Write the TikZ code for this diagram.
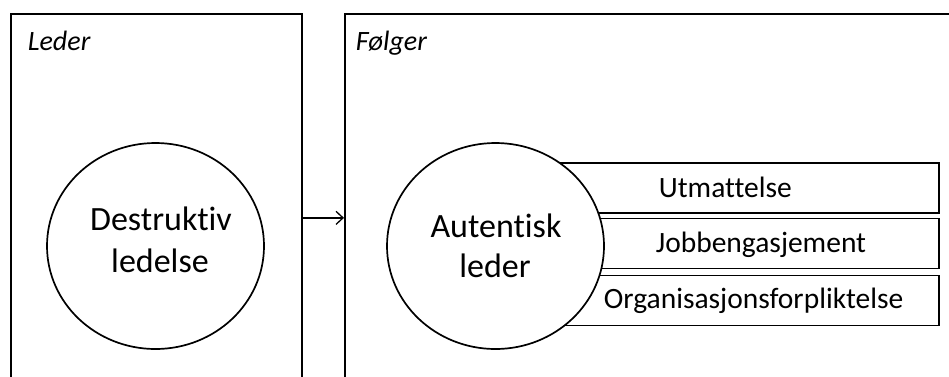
\documentclass[tikz,border=0pt]{standalone}
\usepackage{fontspec}
\setmainfont{Carlito}[Ligatures=NoCommon]
\usetikzlibrary{shapes.geometric,arrows.meta}
\begin{document}
\begin{tikzpicture}[x=1pt,y=-1pt, line width=1.7pt,
  panel/.style={draw, minimum width=#1, minimum height=408pt, anchor=north west, inner sep=0pt},
  blob/.style={draw, fill=white, ellipse, minimum width=217pt, minimum height=206pt, inner sep=0pt},
  bar/.style={draw, fill=white, minimum width=418pt, minimum height=50pt, anchor=north west, inner sep=0pt},
  bigtxt/.style={font=\fontsize{34}{41}\selectfont, anchor=base, inner sep=0pt},
  bartxt/.style={font=\fontsize{29.5}{35}\selectfont, anchor=base west, inner sep=0pt},
  ttl/.style={font=\itshape\fontsize{28}{32}\selectfont, anchor=base west, inner sep=0pt},
  conn/.style={-{Straight Barb[length=7pt,width=13pt]}, line width=1.3pt}]
\clip (0,0) rectangle (949,376);
\fill[white] (0,0) rectangle (949,376);
% panels
\node[panel=291pt] (leder) at (10,13) {};
\node[panel=640pt] (folger) at (344,13) {};
\node[ttl] (ledertxt) at (27,50) {Leder};
\node[ttl] (folgertxt) at (355,50) {Følger};
% bars
\node[bar] (b1) at (520,162) {};
\node[bar] (b2) at (520,217.5) {};
\node[bar] (b3) at (520,274.5) {};
\node[bartxt] (t1) at (658,197) {Utmattelse};
\node[bartxt] (t2) at (655,252) {Jobbengasjement};
\node[bartxt] (t3) at (603,308) {Organisasjonsforpliktelse};
% circles
\node[blob] (c1) at (155.5,246) {};
\node[blob] (c2) at (495.5,246) {};
\node[bigtxt] (c1a) at (161,230) {Destruktiv};
\node[bigtxt] (c1b) at (160,272) {ledelse};
\node[bigtxt] (c2a) at (496,237) {Autentisk};
\node[bigtxt] (c2b) at (495,277) {leder};
% connector
\draw[conn] (leder.east) -- (folger.west);
\end{tikzpicture}
\end{document}
